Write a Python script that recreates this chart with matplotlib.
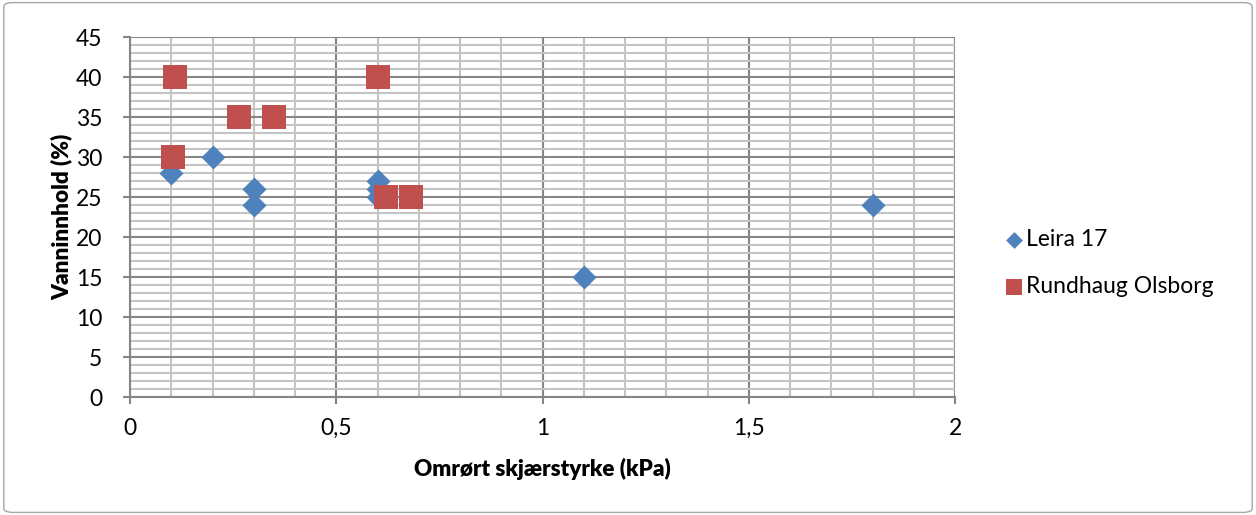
import matplotlib
matplotlib.use("Agg")
import matplotlib.pyplot as plt
from matplotlib.ticker import MultipleLocator, FuncFormatter
from matplotlib.patches import FancyBboxPatch

plt.rcParams['font.family'] = ['Lato', 'DejaVu Sans']

# Leira 17
leira_x = [0.1, 0.2, 0.3, 0.3, 0.6, 0.6, 0.6, 1.1, 1.8]
leira_y = [28, 30, 26, 24, 27, 26, 25, 15, 24]
# Rundhaug Olsborg
rund_x = [0.11, 0.105, 0.265, 0.35, 0.6, 0.62, 0.68]
rund_y = [40, 30, 35, 35, 40, 25, 25]

blue = '#4F81BD'
red = '#C0504D'

fig = plt.figure(figsize=(12.56, 5.15), dpi=100)
ax = fig.add_axes([130/1256, 1 - 397/515, 825/1256, 360/515])

# chart frame
fig.patches.append(FancyBboxPatch((0.003, 0.005), 0.994, 0.99, boxstyle="round,pad=0,rounding_size=0.008",
                                  transform=fig.transFigure, fc='none', ec='#A6A6A6', lw=1))

ax.set_xlim(0, 2)
ax.set_ylim(0, 45)
ax.xaxis.set_major_locator(MultipleLocator(0.5))
ax.xaxis.set_minor_locator(MultipleLocator(0.1))
ax.yaxis.set_major_locator(MultipleLocator(5))
ax.yaxis.set_minor_locator(MultipleLocator(1))
ax.xaxis.set_major_formatter(FuncFormatter(lambda v, p: ('%g' % v).replace('.', ',')))

ax.grid(which='minor', color='#C4C4C4', lw=1.5)
ax.grid(which='major', color='#868686', lw=1.5)
ax.set_axisbelow(True)
for s in ['top', 'right']:
    ax.spines[s].set_visible(False)
for s in ['left', 'bottom']:
    ax.spines[s].set_color('#868686')
    ax.spines[s].set_linewidth(1.5)
ax.tick_params(which='major', length=5, width=1.5, color='#868686', labelsize=16.5)
ax.tick_params(axis='y', pad=15)
ax.tick_params(axis='x', pad=10)
ax.tick_params(which='minor', length=0)

ax.scatter(leira_x, leira_y, marker='D', s=150, color=blue, label='Leira 17', zorder=3, linewidths=0)
ax.scatter(rund_x, rund_y, marker='s', s=300, color=red, label='Rundhaug Olsborg', zorder=3, linewidths=0)

ax.set_xlabel('Omrørt skjærstyrke (kPa)', fontsize=16.2, fontweight='heavy', labelpad=14)
ax.set_ylabel('Vanninnhold (%)', fontsize=16.2, fontweight='heavy', labelpad=2)

ax.legend(loc='center left', bbox_to_anchor=(982/1256, 1 - 263/515), bbox_transform=fig.transFigure,
          frameon=False, fontsize=16.5, handletextpad=0.0, labelspacing=1.1, markerscale=0.7,
          handlelength=1.0)

fig.savefig('out.png', dpi=100)
